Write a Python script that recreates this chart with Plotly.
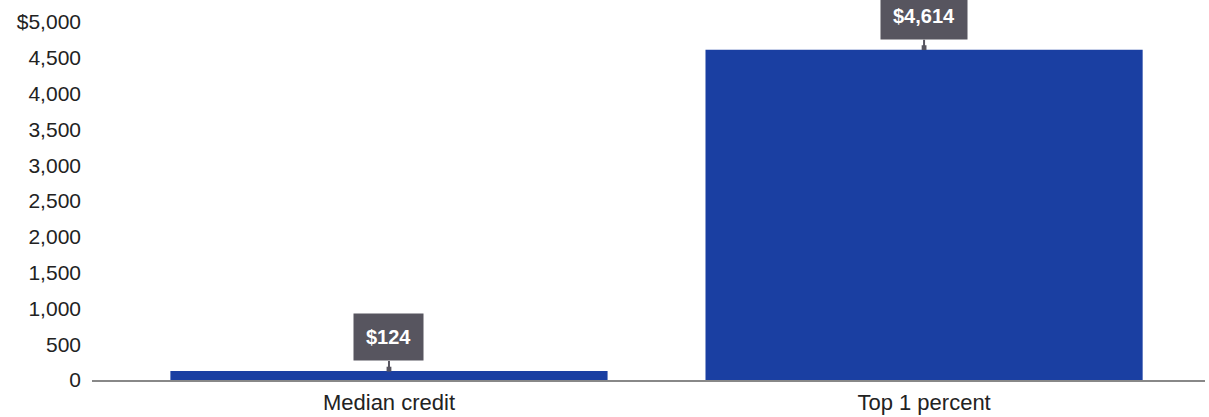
import plotly.graph_objects as go

categories = ["Median credit", "Top 1 percent"]
values = [124, 4614]
labels = ["$124", "$4,614"]
tick_vals = [0, 500, 1000, 1500, 2000, 2500, 3000, 3500, 4000, 4500, 5000]
tick_text = ["0", "500", "1,000", "1,500", "2,000", "2,500", "3,000", "3,500", "4,000", "4,500", "$5,000"]

BAR = "#1a3fa2"
BOX = "#57555f"
FONT = "Liberation Sans, Arial, sans-serif"

fig = go.Figure(go.Bar(x=[0, 1], y=values, marker=dict(color=BAR, line=dict(width=0)),
                       width=0.817, hoverinfo="skip"))

for i, (v, t) in enumerate(zip(values, labels)):
    fig.add_annotation(x=i, y=v, xref="x", yref="y", text="<b>" + t + "</b>",
                       showarrow=True, arrowhead=7, arrowsize=0.6, arrowwidth=2,
                       arrowcolor=BOX, ax=0, ay=-10, standoff=2,
                       yanchor="bottom", bgcolor=BOX, borderpad=12,
                       font=dict(family=FONT, size=20, color="white"))

fig.update_layout(
    width=1209, height=417,
    margin=dict(l=92, r=4, t=22, b=37),
    plot_bgcolor="white", paper_bgcolor="white",
    showlegend=False,
    font=dict(family=FONT, size=20, color="#222222"),
    xaxis=dict(range=[-0.555, 1.525], tickvals=[0, 1], ticktext=categories,
               showgrid=False, zeroline=False, showline=True, linecolor="#888888",
               linewidth=1.5, ticks="", ticklabelstandoff=2, automargin=False,
               tickfont=dict(size=22, color="#222222")),
    yaxis=dict(range=[0, 5000], tickvals=tick_vals, ticktext=tick_text,
               showgrid=False, zeroline=False, showline=False, ticks="",
               ticklabelstandoff=10, automargin=False,
               tickfont=dict(size=21, color="#222222")),
)

fig.write_html("out.html")
